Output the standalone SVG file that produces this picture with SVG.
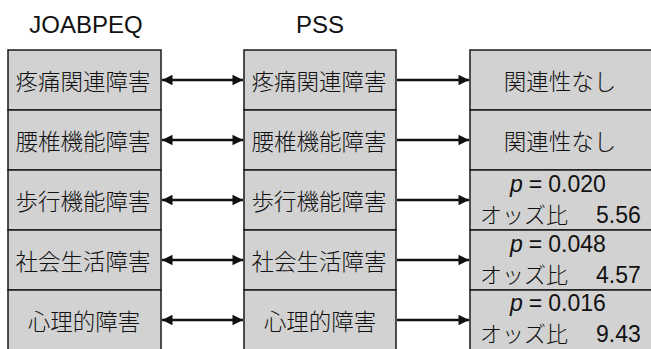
<svg xmlns="http://www.w3.org/2000/svg" width="651" height="349" viewBox="0 0 651 349">
<style>
.box{fill:#d2d2d2;stroke:#1a1a1a;stroke-width:1.5}
.t{font-family:"Noto Sans CJK JP","Noto Sans",sans-serif;font-size:22.5px;font-weight:300;fill:#111;text-anchor:middle;dominant-baseline:central}
.h{font-family:"Liberation Sans",Arial,sans-serif;font-size:24px;fill:#111;text-anchor:middle}
.s{font-family:"Noto Sans CJK JP","Noto Sans",sans-serif;font-size:22px;font-weight:300;fill:#111}
.n{font-family:"Liberation Sans",Arial,sans-serif;font-size:23px;fill:#111}
.ln{stroke:#111;stroke-width:2.5;fill:none}
</style>
<defs>
<marker id="ah" viewBox="0 0 10 10" refX="10" refY="5" markerWidth="6.5" markerHeight="4.2" markerUnits="strokeWidth" orient="auto-start-reverse">
<path d="M0,0 L10,5 L0,10 z" fill="#111"/>
</marker>
</defs>
<text class="h" x="86" y="33">JOABPEQ</text>
<text class="h" x="320" y="33">PSS</text>

<g id="joabpeq">
<rect class="box" x="8" y="50" width="153" height="60"/>
<rect class="box" x="8" y="110" width="153" height="60"/>
<rect class="box" x="8" y="170" width="153" height="60"/>
<rect class="box" x="8" y="230" width="153" height="60"/>
<rect class="box" x="8" y="290" width="153" height="70"/>
<text class="t" x="83" y="80">疼痛関連障害</text>
<text class="t" x="83" y="140">腰椎機能障害</text>
<text class="t" x="83" y="200">歩行機能障害</text>
<text class="t" x="83" y="260">社会生活障害</text>
<text class="t" x="84" y="320">心理的障害</text>
</g>

<g id="pss">
<rect class="box" x="244" y="50" width="152" height="60"/>
<rect class="box" x="244" y="110" width="152" height="60"/>
<rect class="box" x="244" y="170" width="152" height="60"/>
<rect class="box" x="244" y="230" width="152" height="60"/>
<rect class="box" x="244" y="290" width="152" height="70"/>
<text class="t" x="319" y="80">疼痛関連障害</text>
<text class="t" x="319" y="140">腰椎機能障害</text>
<text class="t" x="319" y="200">歩行機能障害</text>
<text class="t" x="319" y="260">社会生活障害</text>
<text class="t" x="320" y="320">心理的障害</text>
</g>

<g id="result">
<rect class="box" x="470" y="50" width="190" height="60"/>
<rect class="box" x="470" y="110" width="190" height="60"/>
<rect class="box" x="470" y="170" width="190" height="60"/>
<rect class="box" x="470" y="230" width="190" height="60"/>
<rect class="box" x="470" y="290" width="190" height="70"/>
<text class="t" x="560" y="80">関連性なし</text>
<text class="t" x="560" y="140">関連性なし</text>
<text class="n" x="510" y="192"><tspan font-style="italic">p</tspan><tspan dx="6">=</tspan><tspan dx="6">0.020</tspan></text>
<text class="s" x="480" y="223">オッズ比<tspan class="n" x="596">5.56</tspan></text>
<text class="n" x="510" y="252"><tspan font-style="italic">p</tspan><tspan dx="6">=</tspan><tspan dx="6">0.048</tspan></text>
<text class="s" x="480" y="283">オッズ比<tspan class="n" x="596">4.57</tspan></text>
<text class="n" x="510" y="311"><tspan font-style="italic">p</tspan><tspan dx="6">=</tspan><tspan dx="6">0.016</tspan></text>
<text class="s" x="480" y="342">オッズ比<tspan class="n" x="596">9.43</tspan></text>
</g>

<g id="connectors">
<line class="ln" x1="162" y1="80" x2="243" y2="80" marker-start="url(#ah)" marker-end="url(#ah)"/>
<line class="ln" x1="162" y1="140" x2="243" y2="140" marker-start="url(#ah)" marker-end="url(#ah)"/>
<line class="ln" x1="162" y1="200" x2="243" y2="200" marker-start="url(#ah)" marker-end="url(#ah)"/>
<line class="ln" x1="162" y1="260" x2="243" y2="260" marker-start="url(#ah)" marker-end="url(#ah)"/>
<line class="ln" x1="162" y1="320" x2="243" y2="320" marker-start="url(#ah)" marker-end="url(#ah)"/>
<line class="ln" x1="397" y1="80" x2="469" y2="80" marker-end="url(#ah)"/>
<line class="ln" x1="397" y1="140" x2="469" y2="140" marker-end="url(#ah)"/>
<line class="ln" x1="397" y1="200" x2="469" y2="200" marker-end="url(#ah)"/>
<line class="ln" x1="397" y1="260" x2="469" y2="260" marker-end="url(#ah)"/>
<line class="ln" x1="397" y1="320" x2="469" y2="320" marker-end="url(#ah)"/>
</g>
</svg>
